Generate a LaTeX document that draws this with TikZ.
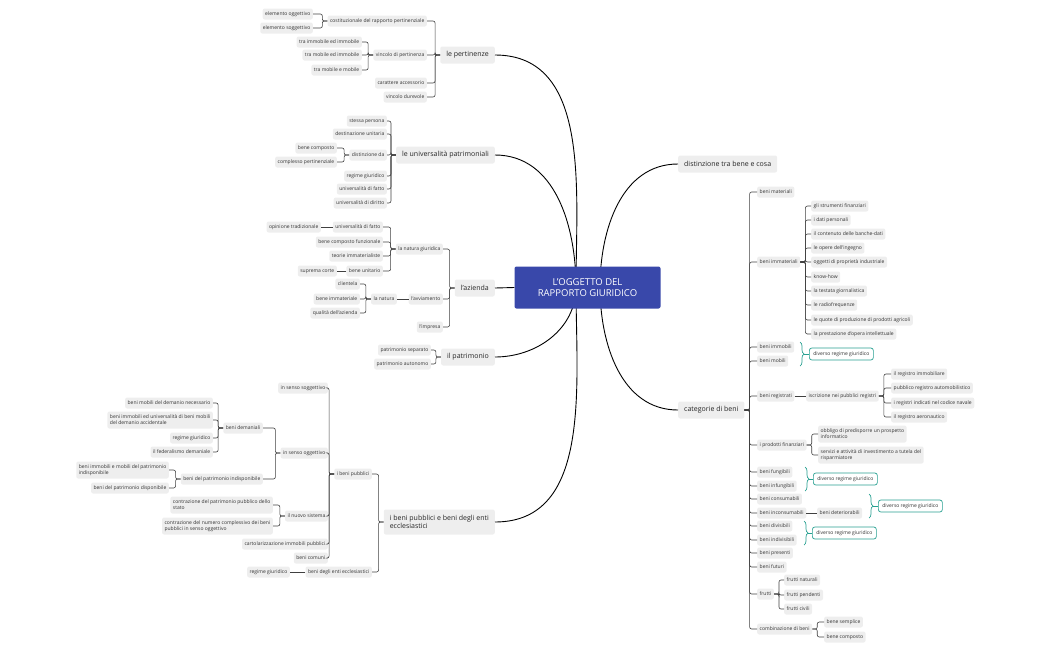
\documentclass[tikz,border=0pt]{standalone}
\usepackage{fontspec}
\setmainfont{Open Sans}
\usetikzlibrary{decorations.pathreplacing}
\definecolor{cblue}{RGB}{57,72,170}
\definecolor{teal2}{RGB}{40,160,145}
\definecolor{boxg}{RGB}{238,238,238}
\begin{document}
\begin{tikzpicture}[x=1pt,y=-1pt,
 s/.style={fill=boxg,rounded corners=2,inner xsep=2.5,inner ysep=0,minimum height=11,font=\fontsize{5}{6}\selectfont,text=black!80,align=left},
 sl/.style={s,anchor=east},
 sr/.style={s,anchor=west},
 m/.style={fill=boxg,rounded corners=2,inner xsep=6,inner ysep=0,minimum height=17,font=\fontsize{7}{8.5}\selectfont,text=black!85,align=left},
 br/.style={draw=black!75,line width=0.6,rounded corners=2},
 mc/.style={draw=black,line width=0.9},
 sum/.style={draw=teal2,line width=0.7,rounded corners=2.5,fill=white,inner xsep=4,minimum height=12,font=\fontsize{5}{6}\selectfont,text=black!80,anchor=west},
 bc/.style={draw=teal2,line width=0.7,decorate,decoration={brace,amplitude=4}}]
\newcommand\mybrl[2]{\draw[br] (#1.west) -- ++(-5,0) |- (#2.east);}
\newcommand\mybrr[2]{\draw[br] (#1.east) -- ++(5,0) |- (#2.west);}
\useasboundingbox (0,0) rectangle (1050,651);
\coordinate (cl) at (576,287);
\coordinate (cr) at (600,287);
% ---------- le pertinenze
\node[m,anchor=east] (pert) at (495,55) {le pertinenze};
\node[sl] (p1) at (427,21) {costituzionale del rapporto pertinenziale};
\node[sl] (p2) at (427,55) {vincolo di pertinenza};
\node[sl] (p3) at (427,83) {carattere accessorio};
\node[sl] (p4) at (427,97) {vincolo durevole};
\node[sl] (p11) at (313,14) {elemento oggettivo};
\node[sl] (p12) at (313,28) {elemento soggettivo};
\node[sl] (p21) at (362,42) {tra immobile ed immobile};
\node[sl] (p22) at (362,55) {tra mobile ed immobile};
\node[sl] (p23) at (362,70) {tra mobile e mobile};
\foreach \c in {p1,p2,p3,p4}{\mybrl{pert}{\c}}
\foreach \c in {p11,p12}{\mybrl{p1}{\c}}
\foreach \c in {p21,p22,p23}{\mybrl{p2}{\c}}
% ---------- universalita
\node[m,anchor=east] (univ) at (495,155) {le universalità patrimoniali};
\node[sl] (u1) at (387,121) {stessa persona};
\node[sl] (u2) at (387,134) {destinazione unitaria};
\node[sl] (u3) at (387,155) {distinzione da};
\node[sl] (u4) at (387,176) {regime giuridico};
\node[sl] (u5) at (387,189) {universalità di fatto};
\node[sl] (u6) at (387,203) {universalità di diritto};
\node[sl] (u31) at (337,148) {bene composto};
\node[sl] (u32) at (337,162) {complesso pertinenziale};
\foreach \c in {u1,u2,u3,u4,u5,u6}{\mybrl{univ}{\c}}
\foreach \c in {u31,u32}{\mybrl{u3}{\c}}
% ---------- azienda
\node[m,anchor=east] (az) at (495,288) {l'azienda};
\node[sl] (a1) at (443,249) {la natura giuridica};
\node[sl] (a2) at (443,299) {l'avviamento};
\node[sl] (a3) at (443,327) {l'impresa};
\node[sl] (a11) at (383,227) {universalità di fatto};
\node[sl] (a12) at (383,242) {bene composto funzionale};
\node[sl] (a13) at (383,256) {teorie immaterialiste};
\node[sl] (a14) at (383,271) {bene unitario};
\node[sl] (a111) at (321,227) {opinione tradizionale};
\node[sl] (a141) at (337,271) {suprema corte};
\node[sl] (a21) at (397,299) {la natura};
\node[sl] (a211) at (360,284) {clientela};
\node[sl] (a212) at (360,299) {bene immateriale};
\node[sl] (a213) at (360,313) {qualità dell'azienda};
\foreach \c in {a1,a2,a3}{\mybrl{az}{\c}}
\foreach \c in {a11,a12,a13,a14}{\mybrl{a1}{\c}}
\draw[br] (a11.west) -- (a111.east);
\draw[br] (a14.west) -- (a141.east);
\draw[br] (a2.west) -- (a21.east);
\foreach \c in {a211,a212,a213}{\mybrl{a21}{\c}}
% ---------- patrimonio
\node[m,anchor=east] (pat) at (495,357) {il patrimonio};
\node[sl] (pa1) at (431,350) {patrimonio separato};
\node[sl] (pa2) at (431,364) {patrimonio autonomo};
\foreach \c in {pa1,pa2}{\mybrl{pat}{\c}}
% ---------- beni pubblici
\node[m,anchor=east,minimum height=25] (bp) at (495,522) {i beni pubblici e beni degli enti\\ecclesiastici};
\node[sl] (b1) at (372,474) {i beni pubblici};
\node[sl] (b2) at (372,572) {beni degli enti ecclesiastici};
\node[sl] (b21) at (290,572) {regime giuridico};
\node[sl] (b11) at (328,388) {in senso soggettivo};
\node[sl] (b12) at (328,453) {in senso oggettivo};
\node[sl] (b13) at (328,516) {il nuovo sistema};
\node[sl] (b14) at (328,544) {cartolarizzazione immobili pubblici};
\node[sl] (b15) at (328,558) {beni comuni};
\node[sl] (b121) at (263,428) {beni demaniali};
\node[sl] (b122) at (263,479) {beni del patrimonio indisponibile};
\node[sl] (d1) at (213,403) {beni mobili del demanio necessario};
\node[sl,minimum height=17] (d2) at (213,420) {beni immobili ed universalità di beni mobili\\del demanio accidentale};
\node[sl] (d3) at (213,438) {regime giuridico};
\node[sl] (d4) at (213,452) {il federalismo demaniale};
\node[sl,minimum height=17] (i1) at (169,470) {beni immobili e mobili del patrimonio\\indisponibile};
\node[sl] (i2) at (169,488) {beni del patrimonio disponibile};
\node[sl,minimum height=17] (n1) at (273,505) {contrazione del patrimonio pubblico dello\\stato};
\node[sl,minimum height=17] (n2) at (273,526) {contrazione del numero complessivo dei beni\\pubblici in senso oggettivo};
\foreach \c in {b1,b2}{\mybrl{bp}{\c}}
\draw[br] (b2.west) -- (b21.east);
\foreach \c in {b11,b12,b13,b14,b15}{\mybrl{b1}{\c}}
\foreach \c in {b121,b122}{\mybrl{b12}{\c}}
\foreach \c in {d1,d2,d3,d4}{\mybrl{b121}{\c}}
\foreach \c in {i1,i2}{\mybrl{b122}{\c}}
\foreach \c in {n1,n2}{\mybrl{b13}{\c}}
% ---------- right side
\node[m,anchor=west] (dist) at (678,164) {distinzione tra bene e cosa};
\node[m,anchor=west] (cat) at (678,410) {categorie di beni};
\node[sr] (c1) at (757,192) {beni materiali};
\node[sr] (c2) at (757,262) {beni immateriali};
\node[sr] (c3) at (757,347) {beni immobili};
\node[sr] (c4) at (757,361) {beni mobili};
\node[sr] (c5) at (757,396) {beni registrati};
\node[sr] (c6) at (757,445) {i prodotti finanziari};
\node[sr] (c7) at (757,472) {beni fungibili};
\node[sr] (c8) at (757,486) {beni infungibili};
\node[sr] (c9) at (757,499) {beni consumabili};
\node[sr] (c10) at (757,513) {beni inconsumabili};
\node[sr] (c11) at (757,526) {beni divisibili};
\node[sr] (c12) at (757,540) {beni indivisibili};
\node[sr] (c13) at (757,553) {beni presenti};
\node[sr] (c14) at (757,567) {beni futuri};
\node[sr] (c15) at (757,594) {frutti};
\node[sr] (c16) at (757,629) {combinazione di beni};
\foreach \c in {c1,c2,c3,c4,c5,c6,c7,c8,c9,c10,c11,c12,c13,c14,c15,c16}{\mybrr{cat}{\c}}
\node[sr] (m1) at (811,206) {gli strumenti finanziari};
\node[sr] (m2) at (811,220) {i dati personali};
\node[sr] (m3) at (811,234) {il contenuto delle banche-dati};
\node[sr] (m4) at (811,248) {le opere dell'ingegno};
\node[sr] (m5) at (811,262) {oggetti di proprietà industriale};
\node[sr] (m6) at (811,277) {know-how};
\node[sr] (m7) at (811,291) {la testata giornalistica};
\node[sr] (m8) at (811,305) {le radiofrequenze};
\node[sr] (m9) at (811,320) {le quote di produzione di prodotti agricoli};
\node[sr] (m10) at (811,334) {la prestazione d'opera intellettuale};
\foreach \c in {m1,m2,m3,m4,m5,m6,m7,m8,m9,m10}{\mybrr{c2}{\c}}
\node[sr] (r1) at (806,396) {iscrizione nei pubblici registri};
\draw[br] (c5.east) -- (r1.west);
\node[sr] (r11) at (891,374) {il registro immobiliare};
\node[sr] (r12) at (891,388) {pubblico registro automobilistico};
\node[sr] (r13) at (891,403) {i registri indicati nel codice navale};
\node[sr] (r14) at (891,417) {il registro aeronautico};
\foreach \c in {r11,r12,r13,r14}{\mybrr{r1}{\c}}
\node[sr,minimum height=17] (f1) at (818,434) {obbligo di predisporre un prospetto\\informatico};
\node[sr,minimum height=17] (f2) at (818,455) {servizi e attività di investimento a tutela del\\risparmiatore};
\foreach \c in {f1,f2}{\mybrr{c6}{\c}}
\node[sr] (det) at (817,513) {beni deteriorabili};
\draw[br] (c10.east) -- (det.west);
\node[sr] (fr1) at (784,580) {frutti naturali};
\node[sr] (fr2) at (784,595) {frutti pendenti};
\node[sr] (fr3) at (784,609) {frutti civili};
\foreach \c in {fr1,fr2,fr3}{\mybrr{c15}{\c}}
\node[sr] (cb1) at (824,622) {bene semplice};
\node[sr] (cb2) at (824,637) {bene composto};
\foreach \c in {cb1,cb2}{\mybrr{c16}{\c}}
% summaries
\node[sum] (s1) at (809,354) {diverso regime giuridico};
\draw[bc] (800,342) -- (800,366);
\draw[draw=teal2,line width=0.7] (804,354) -- (s1.west);
\node[sum] (s2) at (813,479) {diverso regime giuridico};
\draw[bc] (805,467) -- (805,491);
\draw[draw=teal2,line width=0.7] (809,479) -- (s2.west);
\node[sum] (s3) at (878,506) {diverso regime giuridico};
\draw[bc] (869,494) -- (869,518);
\draw[draw=teal2,line width=0.7] (873,506) -- (s3.west);
\node[sum] (s4) at (812,533) {diverso regime giuridico};
\draw[bc] (804,521) -- (804,545);
\draw[draw=teal2,line width=0.7] (808,533) -- (s4.west);
% ---------- main connectors
\draw[mc] (pert.east) to[out=0,in=90] (cl);
\draw[mc] (univ.east) to[out=0,in=90] (cl);
\draw[mc] (pat.east) to[out=0,in=-90] (cl);
\draw[mc] (bp.east) to[out=0,in=-90] (cl);
\draw[mc] (cr) to[out=90,in=180] (dist.west);
\draw[mc] (cr) to[out=-90,in=180] (cat.west);
\node[fill=cblue,rounded corners=2,minimum width=146,minimum height=42,text=white,font=\fontsize{9.5}{11.5}\selectfont,align=center] (cen) at (587.5,287.5) {L'OGGETTO DEL\\RAPPORTO GIURIDICO};
\draw[mc] (az.east) -- (cen.west);
\end{tikzpicture}
\end{document}
